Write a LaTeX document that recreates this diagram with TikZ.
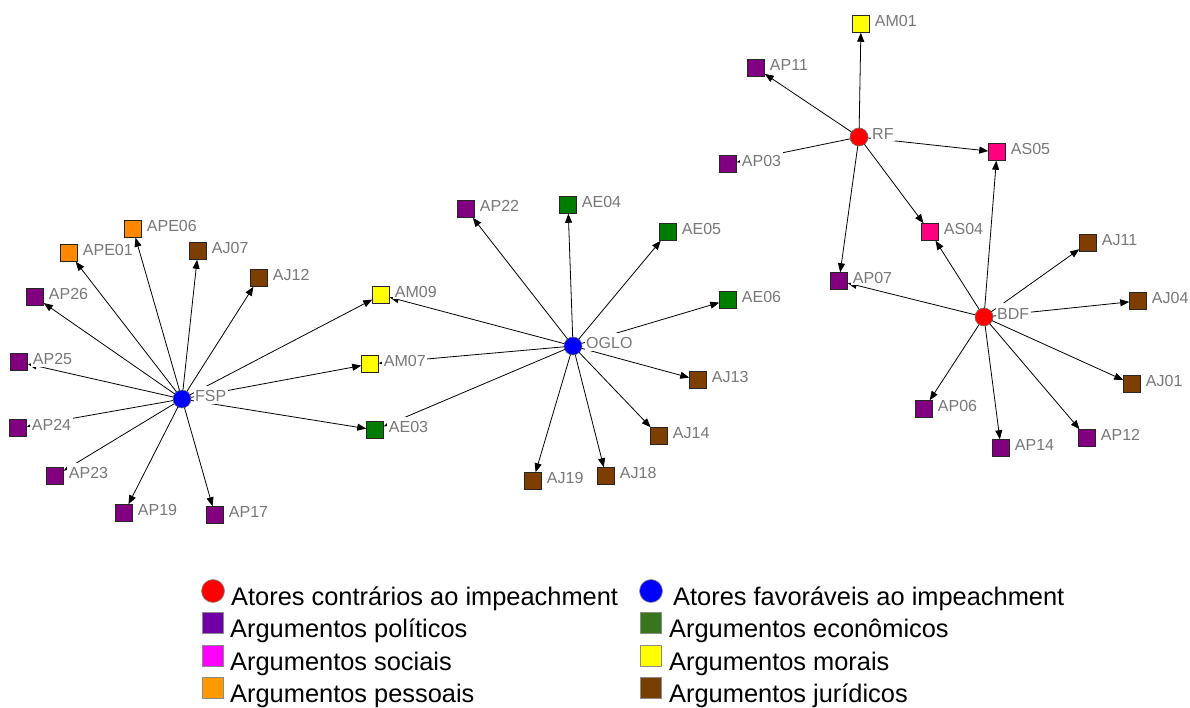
\documentclass[tikz,border=0pt]{standalone}
\usepackage{fontspec}
\setmainfont{Liberation Sans}
\usetikzlibrary{arrows.meta}

% node fills in the network
\definecolor{cpol}{RGB}{128,0,128}
\definecolor{cjur}{RGB}{125,62,0}
\definecolor{ceco}{RGB}{0,125,0}
\definecolor{cmor}{RGB}{255,255,0}
\definecolor{csoc}{RGB}{255,0,128}
\definecolor{cpes}{RGB}{255,136,0}
\definecolor{ccon}{RGB}{255,0,0}
\definecolor{cfav}{RGB}{0,0,255}
% fills in the key
\definecolor{kpol}{RGB}{112,0,165}
\definecolor{keco}{RGB}{56,118,29}
\definecolor{ksoc}{RGB}{255,0,255}
\definecolor{kmor}{RGB}{255,255,0}
\definecolor{kpes}{RGB}{255,153,0}
\definecolor{kjur}{RGB}{120,63,4}
\definecolor{tagtext}{RGB}{120,120,120}

\tikzset{
  argbox/.style={draw=black!85, line width=0.9pt, minimum size=17.5pt, inner sep=0pt, outer sep=0pt},
  actor/.style={circle, draw=black!55, line width=0.6pt, minimum size=18pt, inner sep=0pt, outer sep=0pt},
  tag/.style={anchor=base west, fill=white, text=tagtext, font=\fontsize{16}{16}\selectfont,
              inner xsep=1.5pt, inner ysep=2pt, text height=14pt, text depth=0pt},
  link/.style={line width=0.8pt, black, -{Triangle[length=9pt,width=7pt]}},
  keybox/.style={draw=black!45, line width=0.8pt, minimum size=21pt, inner sep=0pt},
  keydot/.style={circle, draw=black!45, line width=0.6pt, minimum size=23pt, inner sep=0pt},
  keytext/.style={anchor=base west, inner sep=0pt, font=\fontsize{25.4}{25.4}\selectfont},
}

\begin{document}
\begin{tikzpicture}[x=1pt,y=-1pt]
\useasboundingbox (0,0) rectangle (1190,708);

% actors
\node[actor, fill=cfav] (FSP)  at (182,399) {};
\node[actor, fill=cfav] (OGLO) at (573,346) {};
\node[actor, fill=ccon] (RF)   at (859,137) {};
\node[actor, fill=ccon] (BDF)  at (984,317) {};

% arguments
\foreach \n/\x/\y/\c in {
  APE06/133/229/cpes, APE01/69/253/cpes, AJ07/198/251/cjur, AJ12/259/278/cjur,
  AP26/35/297/cpol, AP25/19/362/cpol, AP24/18/428/cpol, AP23/55/476/cpol,
  AP19/124/513/cpol, AP17/215/515/cpol, AM09/381/295/cmor, AM07/370/364/cmor,
  AE03/375/430/ceco,
  AP22/466/209/cpol, AE04/568/205/ceco, AE05/668/232/ceco, AE06/728/300/ceco,
  AJ13/698/380/cjur, AJ14/659/436/cjur, AJ18/606/476/cjur, AJ19/533/481/cjur,
  AM01/861/24/cmor, AP11/756/68/cpol, AS05/997/152/csoc, AP03/728/164/cpol,
  AS04/930/232/csoc, AP07/839/281/cpol,
  AJ11/1088/243/cjur, AJ04/1138/301/cjur, AJ01/1132/384/cjur,
  AP06/924/409/cpol, AP14/1001/448/cpol, AP12/1087/438/cpol}
  \node[argbox, fill=\c] (\n) at (\x,\y) {};

% who puts forward which argument
\foreach \a/\b in {
  FSP/APE06, FSP/APE01, FSP/AJ07, FSP/AJ12, FSP/AP26, FSP/AP25, FSP/AP24,
  FSP/AP23, FSP/AP19, FSP/AP17, FSP/AM09, FSP/AM07, FSP/AE03,
  OGLO/AP22, OGLO/AE04, OGLO/AE05, OGLO/AE06, OGLO/AJ13, OGLO/AJ14,
  OGLO/AJ18, OGLO/AJ19, OGLO/AM09, OGLO/AM07, OGLO/AE03,
  RF/AM01, RF/AP11, RF/AP03, RF/AS05, RF/AS04, RF/AP07,
  BDF/AS04, BDF/AS05, BDF/AJ11, BDF/AJ04, BDF/AJ01, BDF/AP12, BDF/AP14,
  BDF/AP06, BDF/AP07}
  \draw[link] (\a) -- (\b);

% name tags, drawn last so their white ground covers the lines beneath
\foreach \n in {
  APE06, APE01, AJ07, AJ12, AP26, AP25, AP24, AP23, AP19, AP17, AM09, AM07, AE03,
  AP22, AE04, AE05, AE06, AJ13, AJ14, AJ18, AJ19,
  AM01, AP11, AS05, AP03, AS04, AP07,
  AJ11, AJ04, AJ01, AP06, AP14, AP12}
  \node[tag] (\n-t) at ([xshift=3.5pt,yshift=-2.5pt]\n.east) {\n};
\foreach \n in {FSP, OGLO, RF, BDF}
  \node[tag] (\n-t) at ([xshift=2.5pt,yshift=-2.5pt]\n.east) {\n};

% key
\node[keydot, fill=ccon] (k1) at (213,591) {};
\node[keytext] (k1t) at (231,605) {Atores contrários ao impeachment};
\node[keybox, fill=kpol] (k2) at (213,623) {};
\node[keytext] (k2t) at (230,637) {Argumentos políticos};
\node[keybox, fill=ksoc] (k3) at (213,656) {};
\node[keytext] (k3t) at (230,670) {Argumentos sociais};
\node[keybox, fill=kpes] (k4) at (213,688) {};
\node[keytext] (k4t) at (230,702) {Argumentos pessoais};

\node[keydot, fill=cfav] (k5) at (651,591) {};
\node[keytext] (k5t) at (673,605) {Atores favoráveis ao impeachment};
\node[keybox, fill=keco] (k6) at (651,623) {};
\node[keytext] (k6t) at (669,637) {Argumentos econômicos};
\node[keybox, fill=kmor] (k7) at (651,656) {};
\node[keytext] (k7t) at (669,670) {Argumentos morais};
\node[keybox, fill=kjur] (k8) at (651,688) {};
\node[keytext] (k8t) at (669,702) {Argumentos jurídicos};
\end{tikzpicture}
\end{document}
